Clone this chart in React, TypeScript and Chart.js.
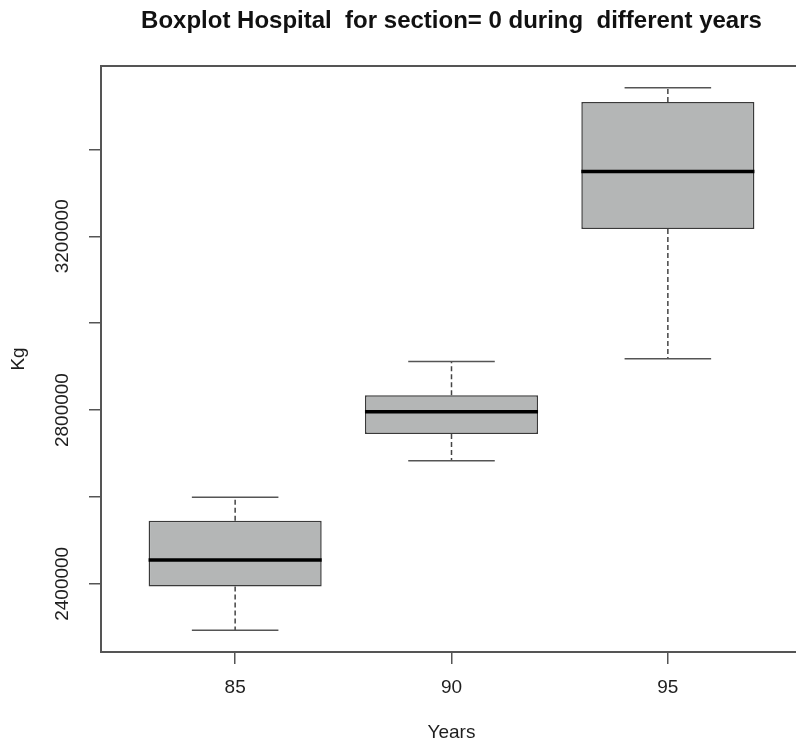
import React, { useEffect, useRef } from "react";
import { Chart, registerables } from "chart.js";

Chart.register(...registerables);

// ---- data ----
const YEARS = ["85", "90", "95"];
const WHISKER_LOW = [2293000, 2683000, 2918000];
const Q1 = [2394000, 2745000, 3217000];
const MEDIAN = [2455000, 2796000, 3349000];
const Q3 = [2545000, 2834000, 3509000];
const WHISKER_HIGH = [2599000, 2912000, 3542000];
const Y_TICKS = [2400000, 2600000, 2800000, 3000000, 3200000, 3400000];
const Y_LABELED = [2400000, 2800000, 3200000];
const TITLE = "Boxplot Hospital  for section= 0 during  different years";
const X_TITLE = "Years";
const Y_TITLE = "Kg";

const FONT = "'Liberation Sans', Arial, Helvetica, sans-serif";
const AXIS_COLOR = "#555555";
const TEXT_COLOR = "#1e1e1e";

export default function App() {
  const canvasRef = useRef<HTMLCanvasElement | null>(null);

  useEffect(() => {
    const canvas = canvasRef.current;
    if (!canvas) return;

    const lo = Math.min(...WHISKER_LOW);
    const hi = Math.max(...WHISKER_HIGH);
    const pad = (hi - lo) * 0.04;

    const boxPlugin = {
      id: "boxWhiskers",
      afterDatasetsDraw(chart: any) {
        const { ctx, scales } = chart;
        const xs = scales.x;
        const ys = scales.y;
        const meta = chart.getDatasetMeta(0);
        ctx.save();
        for (let i = 0; i < YEARS.length; i++) {
          const cx = xs.getPixelForValue(i + 1);
          const bw = meta.data[i] ? meta.data[i].width : 170;
          const capHalf = bw / 4;
          const yLo = ys.getPixelForValue(WHISKER_LOW[i]);
          const yQ1 = ys.getPixelForValue(Q1[i]);
          const yMed = ys.getPixelForValue(MEDIAN[i]);
          const yQ3 = ys.getPixelForValue(Q3[i]);
          const yHi = ys.getPixelForValue(WHISKER_HIGH[i]);
          // dashed whiskers
          ctx.strokeStyle = "#444444";
          ctx.lineWidth = 1.5;
          ctx.setLineDash([5, 3]);
          ctx.beginPath();
          ctx.moveTo(cx, yQ3);
          ctx.lineTo(cx, yHi);
          ctx.moveTo(cx, yQ1);
          ctx.lineTo(cx, yLo);
          ctx.stroke();
          // caps
          ctx.setLineDash([]);
          ctx.strokeStyle = "#555555";
          ctx.beginPath();
          ctx.moveTo(cx - capHalf, yHi);
          ctx.lineTo(cx + capHalf, yHi);
          ctx.moveTo(cx - capHalf, yLo);
          ctx.lineTo(cx + capHalf, yLo);
          ctx.stroke();
          // median
          ctx.strokeStyle = "#000000";
          ctx.lineWidth = 3.5;
          ctx.beginPath();
          ctx.moveTo(cx - bw / 2, yMed);
          ctx.lineTo(cx + bw / 2, yMed);
          ctx.stroke();
        }
        ctx.restore();
      },
      afterDraw(chart: any) {
        const { ctx, chartArea } = chart;
        ctx.save();
        ctx.strokeStyle = AXIS_COLOR;
        ctx.lineWidth = 2;
        ctx.strokeRect(
          chartArea.left,
          chartArea.top,
          chartArea.right - chartArea.left,
          chartArea.bottom - chartArea.top
        );
        ctx.restore();
      },
    };

    const chart = new Chart(canvas, {
      type: "bar",
      data: {
        datasets: [
          {
            data: YEARS.map((_, i) => ({ x: i + 1, y: [Q1[i], Q3[i]] })) as any,
            backgroundColor: "#b4b6b6",
            borderColor: "#3a3a3a",
            borderWidth: 1.5,
            borderSkipped: false,
            categoryPercentage: 0.8,
            barPercentage: 1.0,
          } as any,
        ],
      },
      options: {
        animation: false,
        responsive: false,
        layout: { padding: { left: 0, right: 8, top: 0, bottom: 0 } },
        plugins: {
          legend: { display: false },
          tooltip: { enabled: false },
          title: {
            display: true,
            text: TITLE,
            fullSize: false,
            color: "#111111",
            font: { family: FONT, size: 24, weight: "bold" },
            padding: { top: 7, bottom: 30.2 },
          },
        },
        scales: {
          x: {
            type: "linear",
            min: 0.38,
            max: 3.62,
            offset: false,
            afterBuildTicks: (s: any) => {
              s.ticks = YEARS.map((_, i) => ({ value: i + 1 }));
            },
            afterFit: (s: any) => {
              s.height = 87;
            },
            grid: {
              display: true,
              offset: false,
              drawOnChartArea: false,
              drawTicks: true,
              tickLength: 12,
              color: AXIS_COLOR,
              lineWidth: 1.5,
            },
            border: { display: false },
            ticks: {
              autoSkip: false,
              maxRotation: 0,
              padding: 12,
              color: TEXT_COLOR,
              font: { family: FONT, size: 19 },
              callback: (v: any) => YEARS[Math.round(Number(v)) - 1] ?? "",
            },
            title: {
              display: true,
              text: X_TITLE,
              color: TEXT_COLOR,
              font: { family: FONT, size: 19 },
              padding: { top: 0, bottom: -5 },
            },
          },
          y: {
            type: "linear",
            min: lo - pad,
            max: hi + pad,
            afterBuildTicks: (s: any) => {
              s.ticks = Y_TICKS.map((v) => ({ value: v }));
            },
            afterFit: (s: any) => {
              s.width = 101;
            },
            grid: {
              display: true,
              offset: false,
              drawOnChartArea: false,
              drawTicks: true,
              tickLength: 12,
              color: AXIS_COLOR,
              lineWidth: 1.5,
            },
            border: { display: false },
            ticks: {
              autoSkip: false,
              minRotation: 90,
              maxRotation: 90,
              crossAlign: "center",
              padding: -11,
              color: TEXT_COLOR,
              font: { family: FONT, size: 19 },
              callback: (v: any) =>
                Y_LABELED.includes(Number(v)) ? String(v) : "",
            },
            title: {
              display: true,
              text: Y_TITLE,
              color: TEXT_COLOR,
              font: { family: FONT, size: 19 },
              padding: { top: 7, bottom: 0 },
            },
          },
        },
      } as any,
      plugins: [boxPlugin],
    });

    return () => {
      chart.destroy();
    };
  }, []);

  return (
    <div
      style={{
        position: "fixed",
        left: 0,
        top: 0,
        width: 796,
        height: 739,
        overflow: "hidden",
        background: "#ffffff",
      }}
    >
      <canvas ref={canvasRef} width={810} height={739} />
    </div>
  );
}
